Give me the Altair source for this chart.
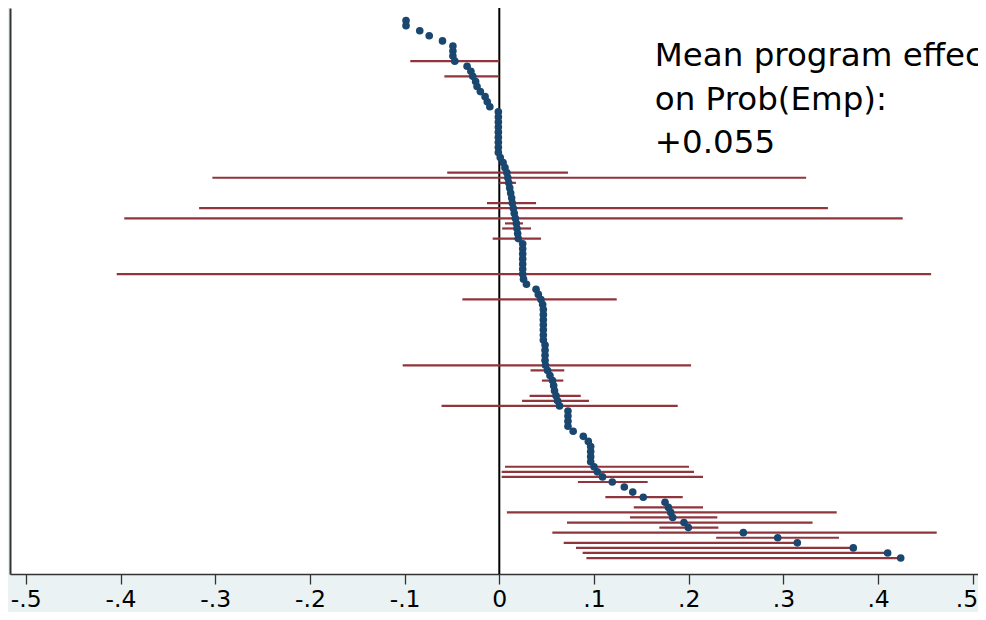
import altair as alt
import pandas as pd

# Program effect estimates, sorted (rank 0 at top)
effects = [
    -0.0985, -0.0985, -0.084, -0.074, -0.060, -0.049, -0.049, -0.049, -0.047, -0.034,
    -0.030, -0.028, -0.025, -0.0235, -0.020, -0.015, -0.0127, -0.010, -0.001, -0.001,
    -0.001, -0.001, -0.001, -0.001, -0.001, -0.001, -0.001, 0.001, 0.004, 0.006,
    0.008, 0.009, 0.010, 0.011, 0.012, 0.013, 0.0137, 0.0148, 0.0158, 0.0169,
    0.018, 0.0187, 0.0194, 0.020, 0.0247, 0.0247, 0.0247, 0.0247, 0.0247, 0.0247,
    0.0247, 0.0256, 0.0287, 0.0388, 0.0412, 0.044, 0.0458, 0.0465, 0.0465, 0.0465,
    0.0465, 0.0465, 0.0465, 0.0465, 0.0483, 0.0483, 0.0483, 0.0483, 0.0488, 0.051,
    0.0535, 0.0562, 0.0574, 0.0583, 0.0599, 0.0615, 0.0636, 0.0725, 0.0725, 0.0725,
    0.0725, 0.078, 0.0887, 0.094, 0.0965, 0.0965, 0.0965, 0.0965, 0.100, 0.1035,
    0.109, 0.1193, 0.132, 0.1409, 0.152, 0.175, 0.1785, 0.181, 0.1831, 0.195,
    0.1996, 0.2577, 0.294, 0.3147, 0.3738, 0.4101, 0.4239,
]

# Confidence intervals (rank of estimate, lower, upper)
ci_index = [8, 11, 30, 31, 32, 36, 37, 39, 40, 41, 43, 50, 55, 68, 69, 71, 74, 75, 76, 88,
            89, 90, 91, 94, 96, 97, 98, 99, 100, 101, 102, 103, 104, 105, 106]
ci_low = [-0.094, -0.058, -0.055, -0.303, 0.000, -0.013, -0.317, -0.396, 0.006, 0.003,
          -0.007, -0.404, -0.039, -0.102, 0.033, 0.045, 0.032, 0.024, -0.061, 0.006,
          0.0025, 0.0025, 0.083, 0.112, 0.142, 0.008, 0.138, 0.0715, 0.169, 0.056,
          0.229, 0.068, 0.081, 0.088, 0.092]
ci_high = [0.000, 0.000, 0.0725, 0.324, 0.0176, 0.0388, 0.347, 0.426, 0.025, 0.0335,
           0.044, 0.456, 0.124, 0.2025, 0.0686, 0.0676, 0.086, 0.0947, 0.1884, 0.2003,
           0.2056, 0.2151, 0.1567, 0.1937, 0.2151, 0.3563, 0.2302, 0.3308, 0.2313, 0.4619,
           0.3587, 0.3144, 0.3756, 0.4091, 0.4231]

tick_values = [-0.5, -0.4, -0.3, -0.2, -0.1, 0.0, 0.1, 0.2, 0.3, 0.4, 0.5]
tick_labels = ["-.5", "-.4", "-.3", "-.2", "-.1", "0", ".1", ".2", ".3", ".4", ".5"]

annotation = "Mean program effect\non Prob(Emp):\n+0.055"
ann_x = 0.1642
ann_rank = 9.05

df_points = pd.DataFrame({"rank": list(range(len(effects))), "effect": effects})
df_ci = pd.DataFrame({"rank": ci_index, "lo": ci_low, "hi": ci_high})
df_zero = pd.DataFrame({"x": [0.0]})
df_ann = pd.DataFrame({"x": [ann_x], "rank": [ann_rank], "label": [annotation]})

label_expr = "[" + ",".join(f"'{t}'" for t in tick_labels) + "][round(datum.value*10)+5]"

x_scale = alt.Scale(domain=[-0.5167, 0.5055], nice=False, zero=False)
y_scale = alt.Scale(domain=[-2.485, 109.15], reverse=True, nice=False, zero=False)

x_axis = alt.Axis(
    values=tick_values, labelExpr=label_expr, tickSize=10, tickWidth=1.3,
    tickColor="#333333", domainColor="#333333", domainWidth=1.5,
    labelFont="DejaVu Sans", labelFontSize=23.5, labelColor="black",
    labelPadding=22, labelBaseline="alphabetic", grid=False, title=None,
    labelFlush=False, labelOverlap=False,
    labelAlign={"condition": {"test": "datum.value > 0.45", "value": "right"}, "value": "center"},
    labelOffset={"condition": {"test": "datum.value > 0.45", "value": 5}, "value": 0},
)
y_axis = alt.Axis(labels=False, ticks=False, grid=False, title=None,
                  domainColor="#333333", domainWidth=2)

zero = alt.Chart(df_zero).mark_rule(color="black", strokeWidth=2).encode(
    x=alt.X("x:Q", scale=x_scale, axis=x_axis, title=None)
)

ci = alt.Chart(df_ci).mark_rule(color="#90353B", strokeWidth=2.2).encode(
    x=alt.X("lo:Q", scale=x_scale, axis=x_axis, title=None),
    x2="hi:Q",
    y=alt.Y("rank:Q", scale=y_scale, axis=y_axis, title=None),
)

points = alt.Chart(df_points).mark_circle(color="#1A476F", size=58, opacity=1).encode(
    x=alt.X("effect:Q", scale=x_scale, axis=x_axis, title=None),
    y=alt.Y("rank:Q", scale=y_scale, axis=y_axis, title=None),
)

text = alt.Chart(df_ann).mark_text(
    align="left", baseline="alphabetic", font="DejaVu Sans", fontSize=32.5,
    lineHeight=43.5, lineBreak="\n", color="black",
).encode(
    x=alt.X("x:Q", scale=x_scale, axis=x_axis, title=None),
    y=alt.Y("rank:Q", scale=y_scale, axis=y_axis, title=None),
    text="label:N",
)

chart = alt.layer(zero, ci, points, text).properties(
    width=968, height=566,
    padding={"left": 2, "top": 0, "right": 0, "bottom": 38},
    autosize=alt.AutoSizeParams(type="none"),
    background="#EAF2F3",
).configure_view(fill="white", strokeWidth=0)

chart.save("out.html", embed_options={"renderer": "svg", "actions": False})
